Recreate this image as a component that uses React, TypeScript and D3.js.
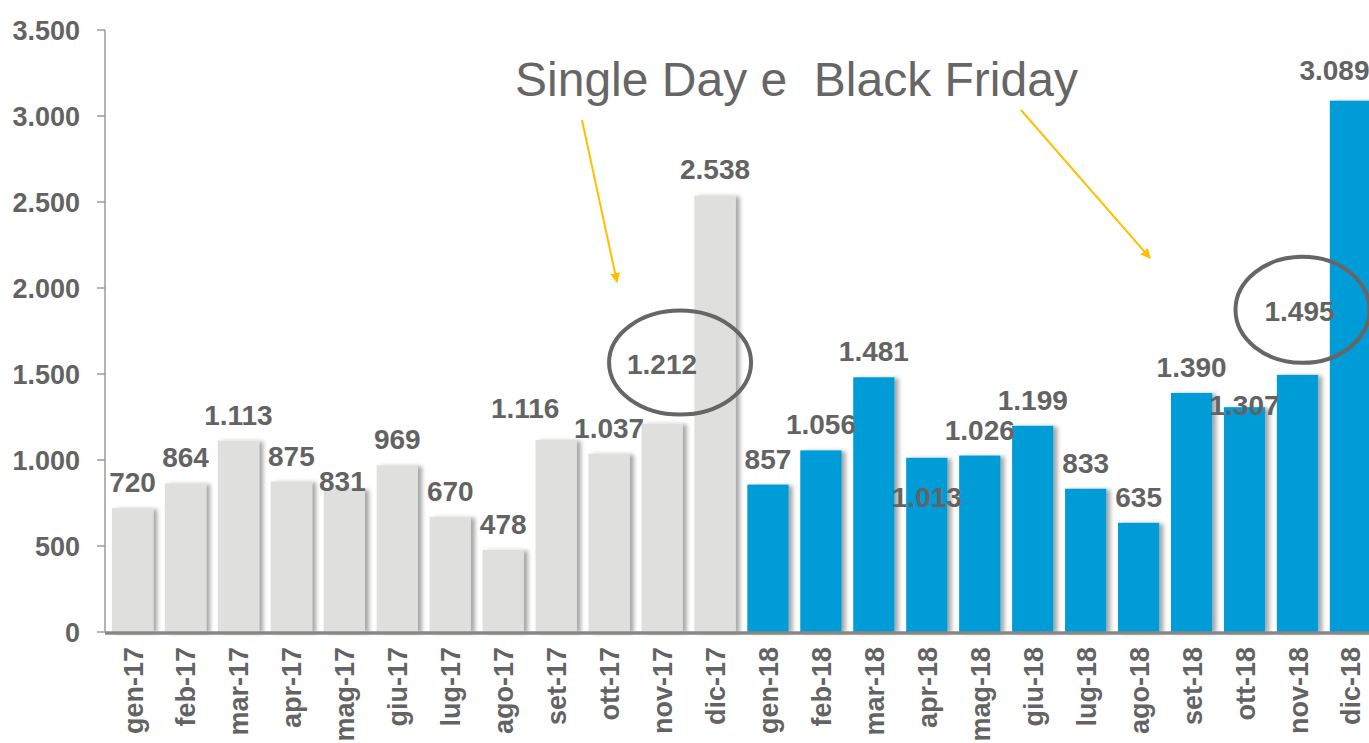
import React from "react";
import * as d3 from "d3";

const months = [
  "gen-17", "feb-17", "mar-17", "apr-17", "mag-17", "giu-17", "lug-17", "ago-17",
  "set-17", "ott-17", "nov-17", "dic-17",
  "gen-18", "feb-18", "mar-18", "apr-18", "mag-18", "giu-18", "lug-18", "ago-18",
  "set-18", "ott-18", "nov-18", "dic-18",
];
const values = [
  720, 864, 1113, 875, 831, 969, 670, 478, 1116, 1037, 1212, 2538,
  857, 1056, 1481, 1013, 1026, 1199, 833, 635, 1390, 1307, 1495, 3089,
];
const yTicks = [0, 500, 1000, 1500, 2000, 2500, 3000, 3500];
const title = "Single Day e  Black Friday";

const fmt = (v: number) => d3.format(",")(v).replace(/,/g, ".");

export default function App() {
  const width = 1369;
  const height = 743;
  const left = 105;
  const top = 30;
  const bottom = 632;

  const x = d3
    .scaleBand()
    .domain(months)
    .range([left, 1378])
    .paddingInner(0.22)
    .paddingOuter(0.13);
  const y = d3.scaleLinear().domain([0, 3500]).range([bottom, top]);
  const bw = x.bandwidth();

  // label tweaks copied from the slide (some sit inside bars / circles)
  const shift: Record<string, { dx?: number; dy?: number }> = {
    "mag-17": { dy: 18, dx: -2 },
    "set-17": { dy: -6, dx: -31 },
    "nov-17": { dy: -34 },
    "apr-18": { dy: 65 },
    "ott-18": { dy: 24 },
    "nov-18": { dy: -38, dx: 2 },
    "dic-18": { dy: -5, dx: -16 },
  };

  const textCol = "#636363";
  const font = "Liberation Sans, Arial, sans-serif";
  const cx = (m: string) => (x(m) as number) + bw / 2;

  return (
    <svg width={width} height={height} style={{ position: "absolute", left: 0, top: 0 }}>
      <defs>
        <filter id="shadow" x="-20%" y="-5%" width="150%" height="110%">
          <feDropShadow dx="4" dy="1" stdDeviation="2" floodColor="#000" floodOpacity="0.35" />
        </filter>
        <marker id="arr" viewBox="0 0 10 10" refX="9" refY="5" markerWidth="5" markerHeight="5" orient="auto">
          <path d="M0,0 L10,5 L0,10 z" fill="#FFC000" />
        </marker>
      </defs>
      <rect width={width} height={height} fill="#fff" />

      {/* y axis */}
      <line x1={left} x2={left} y1={top} y2={bottom} stroke="#9a9a9a" strokeWidth={1.5} />
      {yTicks.map((t) => (
        <g key={t}>
          <line x1={left - 8} x2={left} y1={y(t)} y2={y(t)} stroke="#9a9a9a" strokeWidth={1.5} />
          <text
            x={80}
            y={y(t)}
            dy="0.36em"
            textAnchor="end"
            fontFamily={font}
            fontWeight="bold"
            fontSize={27}
            fill={textCol}
          >
            {fmt(t)}
          </text>
        </g>
      ))}

      {/* bars */}
      {months.map((m, i) => (
        <rect
          key={m}
          x={x(m)}
          y={y(values[i])}
          width={bw}
          height={bottom - y(values[i])}
          fill={m.endsWith("17") ? "#dfe0de" : "#009cd8"}
          filter="url(#shadow)"
        />
      ))}

      <line x1={left} x2={width} y1={bottom + 1} y2={bottom + 1} stroke="#878787" strokeWidth={3.5} />

      {/* value labels */}
      {months.map((m, i) => {
        const s = shift[m] || {};
        return (
          <text
            key={m}
            x={cx(m) + (s.dx || 0)}
            y={y(values[i]) - 16 + (s.dy || 0)}
            textAnchor="middle"
            fontFamily={font}
            fontWeight="bold"
            fontSize={28}
            fill={textCol}
          >
            {fmt(values[i])}
          </text>
        );
      })}

      {/* month labels */}
      {months.map((m) => (
        <text
          key={m}
          transform={`translate(${cx(m) + 10},${bottom + 15}) rotate(-90)`}
          textAnchor="end"
          fontFamily={font}
          fontWeight="bold"
          fontSize={27}
          fill={textCol}
        >
          {m}
        </text>
      ))}

      {/* circles */}
      <ellipse cx={cx("nov-17") + 18} cy={y(1212) - 61} rx={71} ry={52} fill="none" stroke="#666" strokeWidth={4} />
      <ellipse cx={cx("nov-18") + 5} cy={y(1495) - 65} rx={67} ry={53} fill="none" stroke="#666" strokeWidth={4} />

      {/* title + arrows */}
      <text x={515} y={96} fontFamily={font} fontSize={48} fill="#666" style={{ whiteSpace: "pre" }}>
        {title}
      </text>
      <line x1={582} y1={120} x2={617} y2={282} stroke="#FFC000" strokeWidth={2} markerEnd="url(#arr)" />
      <line x1={1021} y1={110} x2={1150} y2={258} stroke="#FFC000" strokeWidth={2} markerEnd="url(#arr)" />
    </svg>
  );
}
